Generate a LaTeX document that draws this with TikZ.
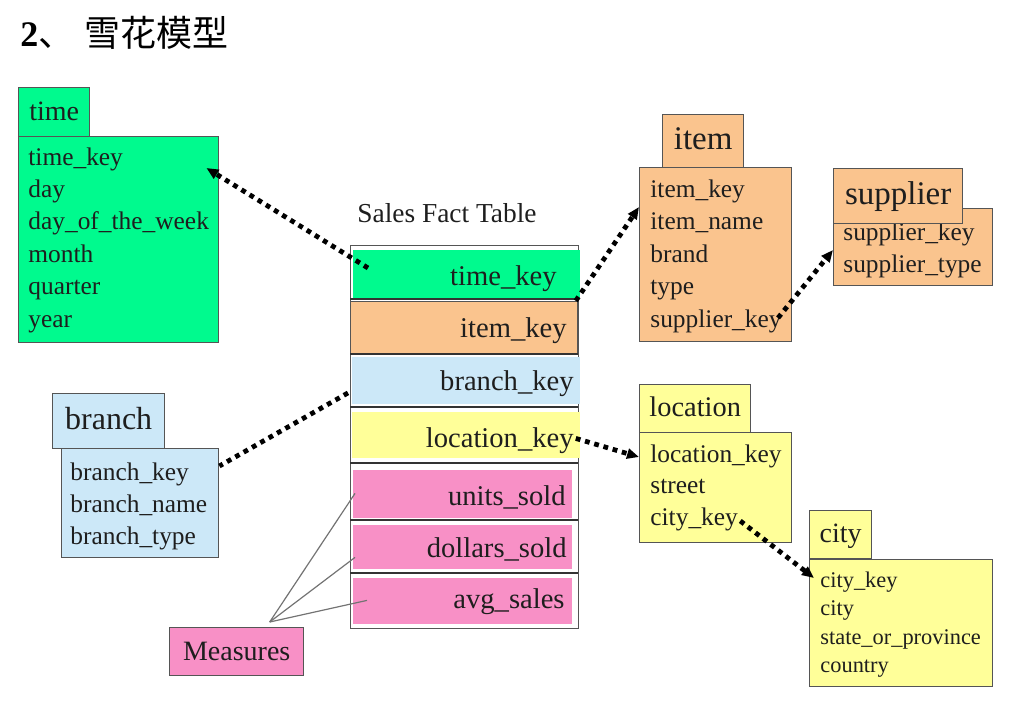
\documentclass[tikz,border=0pt]{standalone}
\usepackage{fontspec}
\setmainfont{Liberation Serif}
\newfontfamily\cjk{Noto Sans CJK SC}
\usetikzlibrary{arrows.meta,calc,positioning}
\definecolor{timeGreen}{HTML}{00FA8E}
\definecolor{itemOrange}{HTML}{FAC48E}
\definecolor{branchBlue}{HTML}{CCE8F8}
\definecolor{locYellow}{HTML}{FFFF99}
\definecolor{measPink}{HTML}{F890C6}
\definecolor{boxLine}{HTML}{555555}
\definecolor{inkText}{HTML}{1E1E1E}
\tikzset{
  >={Triangle[length=6pt,width=5pt]},
  tblbox/.style={draw=boxLine,line width=0.7pt,inner sep=0pt,anchor=north west},
  tblhead/.style={tblbox,text height=0.8em,text depth=0pt,text=inkText},
  rowfill/.style={inner sep=0pt,anchor=north west},
  field/.style={anchor=base west,inner sep=0pt,text=inkText,font=\fontsize{12.7}{15}\selectfont},
  smallfield/.style={field,font=\fontsize{11.2}{13}\selectfont},
  rowlabel/.style={anchor=base east,inner sep=0pt,text=inkText,font=\fontsize{14.3}{17}\selectfont},
  keylink/.style={draw=black,line width=2.4pt,dash pattern=on 2.4pt off 2.4pt},
  measlink/.style={draw=black!55,line width=0.6pt},
  sepline/.style={draw=black!80,line width=1pt},
}

\begin{document}
\begin{tikzpicture}[x=0.5pt,y=-0.5pt]
\useasboundingbox (0,0) rectangle (1016,722);

% ===== Title =====
\node[anchor=base west,inner sep=0pt,font=\fontsize{18}{20}\selectfont] (title) at (20,47)
  {{\bfseries 2}{\cjk 、\hspace{5pt}雪花模型}};

% ===== time dimension =====
\node[tblbox,fill=timeGreen,minimum width=100pt,minimum height=103pt] (timeBody) at (18,136) {};
\node[tblhead,fill=timeGreen,minimum width=35.5pt,minimum height=24.5pt,font=\fontsize{14}{16}\selectfont]
  (timeHead) at (18,87) {time};
\foreach [count=\i] \t in {time\_key,day,day\_of\_the\_week,month,quarter,year} {
  \node[field] (time\i) at (28,{132.6+32.4*\i}) {\t};
}

% ===== Sales fact table =====
\node[anchor=base west,inner sep=0pt,text=inkText,font=\fontsize{13.7}{16}\selectfont]
  (factTitle) at (357,222) {Sales Fact Table};
\node[tblbox,minimum width=114pt,minimum height=191.5pt] (factFrame) at (350,245) {};
\node[rowfill,fill=timeGreen,minimum width=113.5pt,minimum height=24pt] (fRowTime) at (353,250) {};
\node[rowfill,fill=itemOrange,draw=boxLine,line width=0.7pt,minimum width=113.5pt,minimum height=26.5pt] (fRowItem) at (350,301) {};
\node[rowfill,fill=branchBlue,minimum width=114pt,minimum height=23.5pt] (fRowBranch) at (352,357) {};
\node[rowfill,fill=locYellow,minimum width=114pt,minimum height=23pt] (fRowLoc) at (352,412) {};
\node[rowfill,fill=measPink,minimum width=109.5pt,minimum height=24pt] (fRowUnits) at (353,470) {};
\node[rowfill,fill=measPink,minimum width=109.5pt,minimum height=22pt] (fRowDollars) at (353,525) {};
\node[rowfill,fill=measPink,minimum width=109.5pt,minimum height=23pt] (fRowAvg) at (353,578) {};
\foreach \y in {299,354,407,463,520,573} {
  \draw[sepline] (350,\y) -- (578,\y);
}
\foreach \nm/\t/\x/\y in {fTime/time\_key/557/285,fItem/item\_key/567/337,fBranch/branch\_key/574/390,
    fLoc/location\_key/574/447,fUnits/units\_sold/566/505,fDollars/dollars\_sold/567/557,fAvg/avg\_sales/565/608} {
  \node[rowlabel] (\nm) at (\x,\y) {\t};
}

% ===== item dimension =====
\node[tblhead,fill=itemOrange,minimum width=40.5pt,minimum height=27pt,font=\fontsize{16.5}{19}\selectfont]
  (itemHead) at (662,114) {item};
\node[tblbox,fill=itemOrange,minimum width=76pt,minimum height=87pt] (itemBody) at (639,167) {};
\foreach [count=\i] \t in {item\_key,item\_name,brand,type,supplier\_key} {
  \node[field] (item\i) at (650,{164.5+32.5*\i}) {\t};
}

% ===== supplier dimension =====
\node[tblbox,fill=itemOrange,minimum width=79.5pt,minimum height=38.5pt] (supBody) at (833,208) {};
\foreach [count=\i] \t in {supplier\_key,supplier\_type} {
  \node[field] (sup\i) at (843,{208+32*\i}) {\t};
}
\node[tblhead,fill=itemOrange,minimum width=64.5pt,minimum height=27.5pt,font=\fontsize{16.5}{19}\selectfont]
  (supHead) at (833,168) {supplier};

% ===== branch dimension =====
\node[tblhead,fill=branchBlue,minimum width=56pt,minimum height=27.5pt,font=\fontsize{16}{19}\selectfont]
  (branchHead) at (52,393) {branch};
\node[tblbox,fill=branchBlue,minimum width=78.5pt,minimum height=54.5pt] (branchBody) at (61,448) {};
\foreach [count=\i] \t in {branch\_key,branch\_name,branch\_type} {
  \node[field] (branch\i) at (70,{448+32*\i}) {\t};
}

% ===== location dimension =====
\node[tblhead,fill=locYellow,minimum width=55.5pt,minimum height=24pt,font=\fontsize{14.2}{16}\selectfont]
  (locHead) at (639,384) {location};
\node[tblbox,fill=locYellow,minimum width=76pt,minimum height=55pt] (locBody) at (639,432) {};
\foreach [count=\i] \t in {location\_key,street,city\_key} {
  \node[field] (loc\i) at (650,{430.5+31.5*\i}) {\t};
}

% ===== city dimension =====
\node[tblhead,fill=locYellow,minimum width=31pt,minimum height=24pt,font=\fontsize{14}{16}\selectfont]
  (cityHead) at (809,510) {city};
\node[tblbox,fill=locYellow,minimum width=91.5pt,minimum height=63.5pt] (cityBody) at (809,559) {};
\foreach [count=\i] \t in {city\_key,city,state\_or\_province,country} {
  \node[smallfield] (city\i) at (820,{558.5+28.5*\i}) {\t};
}

% ===== Measures =====
\node[tblbox,fill=measPink,minimum width=67pt,minimum height=24pt,text=inkText,font=\fontsize{14}{16}\selectfont]
  (measures) at (169,627) {Measures};
\coordinate (measTip) at ($(measures.north)+(33,-5)$);
\draw[measlink] (measTip) -- ($(fRowUnits.west)+(2,-1)$);
\draw[measlink] (measTip) -- ($(fRowDollars.west)+(2,10)$);
\draw[measlink] (measTip) -- ($(fRowAvg.west)+(14,-1)$);

% ===== Key links =====
\draw[keylink,->] ($(fRowTime.north west)+(15,18)$) -- ($(timeBody.north east)+(-13,32)$);
\draw[keylink,->] ($(fRowTime.south east)+(-5,2)$) -- ($(itemBody.north west)+(0,40)$);
\draw[keylink,->] ($(item5.east)+(-4,-3)$) -- ($(supBody.north west)+(0,42)$);
\draw[keylink] ($(fRowBranch.west)+(-4,12)$) -- ($(branchBody.north east)+(0,18)$);
\draw[keylink,->] ($(fRowLoc.east)+(-5,3)$) -- ($(locBody.north west)+(0,25)$);
\draw[keylink,->] ($(loc3.east)+(2,2)$) -- ($(cityBody.north west)+(5,19)$);

\end{tikzpicture}
\end{document}
